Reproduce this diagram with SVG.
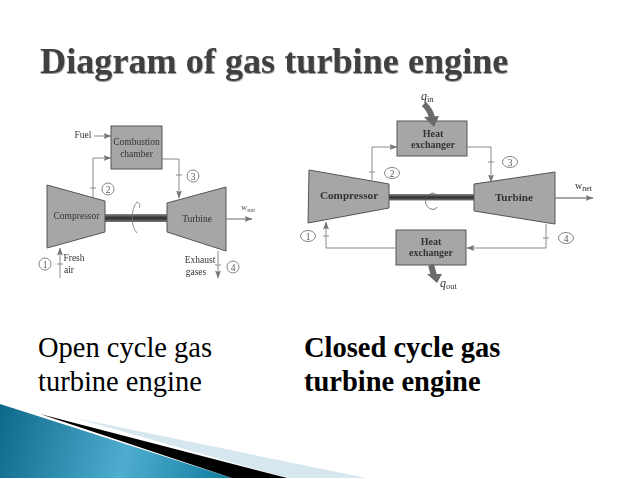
<svg xmlns="http://www.w3.org/2000/svg" width="638" height="479" viewBox="0 0 638 479">
<defs>
<linearGradient id="teal" gradientUnits="userSpaceOnUse" x1="0" y1="420" x2="230" y2="479">
<stop offset="0" stop-color="#0e6b8c"/><stop offset="0.55" stop-color="#4fadcf"/><stop offset="1" stop-color="#0f7d9f"/>
</linearGradient>
<filter id="soft" x="-5%" y="-5%" width="110%" height="110%"><feGaussianBlur stdDeviation="0.45"/></filter>
<filter id="shadow" x="-5%" y="-20%" width="110%" height="140%"><feDropShadow dx="0.5" dy="1" stdDeviation="0.7" flood-color="#999"/></filter>
<linearGradient id="shaft" x1="0" y1="0" x2="0" y2="1">
<stop offset="0" stop-color="#8c8c8c"/><stop offset="0.5" stop-color="#2c2c2c"/><stop offset="1" stop-color="#777"/>
</linearGradient>
<marker id="ah" viewBox="0 0 8 6" refX="7.500" refY="3" markerWidth="8" markerHeight="6" markerUnits="userSpaceOnUse" orient="auto"><path d="M0 0L8 3L0 6L1.500 3Z" fill="#777"/></marker>
</defs>
<style>
.title{font:bold 36.200px "Liberation Serif",serif;fill:#404040}
.cap{font:28.500px "Liberation Serif",serif;fill:#000}
.capb{font:bold 28.500px "Liberation Serif",serif;fill:#000}
.blk{fill:#a6a6a6;stroke:#555;stroke-width:1}
.ln{fill:none;stroke:#8a8a8a;stroke-width:1}
.arr{marker-end:url(#ah)}
.t{font-family:"Liberation Serif",serif;font-size:9.500px;fill:#333;text-anchor:middle}
.tb{font-family:"Liberation Serif",serif;font-size:10px;fill:#333;text-anchor:middle;font-weight:bold}
.tbl{font-family:"Liberation Serif",serif;font-size:11.200px;fill:#333;text-anchor:middle;font-weight:bold}
.s{font-family:"Liberation Serif",serif;font-size:8.500px;fill:#555;text-anchor:start}
.q{font-family:"Liberation Serif",serif;font-size:12px;fill:#333;font-style:italic}
.c{fill:#fff;stroke:#777;stroke-width:0.900}
.n{font-family:"Liberation Serif",serif;font-size:9.500px;fill:#555;text-anchor:middle}
.fat{fill:none;stroke:#6b6b6b;stroke-width:6}
.sw{fill:none;stroke:#777;stroke-width:0.800}
</style>
<rect width="638" height="479" fill="#fff"/>
<g id="footer">
<polygon points="75,418 366,478 287,478" fill="#d7e7ef"/>
<polygon points="0,404 232,478 0,478" fill="url(#teal)"/>
<polygon points="40,414 232,478 287,478" fill="#000"/>
</g>
<text class="title" x="40" y="73" filter="url(#shadow)">Diagram of gas turbine engine</text>
<g id="shaft-open" filter="url(#soft)"><rect x="105" y="214" width="62" height="8" fill="url(#shaft)"/></g>
<g id="shaft-closed" filter="url(#soft)"><rect x="389" y="194" width="85" height="6.500" fill="url(#shaft)"/></g>
<g id="open-compressor" filter="url(#soft)"><polygon class="blk" points="47,185 105,201 105,232 47,248"/><text class="t" x="76.500" y="219">Compressor</text></g>
<g id="open-turbine" filter="url(#soft)"><polygon class="blk" points="167,203 226,187 226,251 167,232"/><text class="t" x="197" y="222">Turbine</text></g>
<g id="open-chamber" filter="url(#soft)"><rect class="blk" x="111" y="126" width="51" height="43"/><text class="t" x="136.500" y="145">Combustion</text><text class="t" x="136.500" y="157">chamber</text></g>
<g id="closed-compressor" filter="url(#soft)"><polygon class="blk" points="309,170 389,184 389,208 308,223"/><text class="tbl" x="349" y="199">Compressor</text></g>
<g id="closed-turbine" filter="url(#soft)"><polygon class="blk" points="474,184 555,172 555,224 474,211"/><text class="tbl" x="514" y="201">Turbine</text></g>
<g id="closed-hx-top" filter="url(#soft)"><rect class="blk" x="397" y="121" width="70" height="35"/><text class="tb" x="433" y="137">Heat</text><text class="tb" x="433" y="148">exchanger</text></g>
<g id="closed-hx-bottom" filter="url(#soft)"><rect class="blk" x="396" y="230" width="70" height="35"/><text class="tb" x="431" y="245">Heat</text><text class="tb" x="431" y="256">exchanger</text></g>
<g id="connectors" filter="url(#soft)">
<path class="ln arr" d="M94 136H111"/>
<path class="ln arr" d="M93 197V158H111"/>
<path class="ln arr" d="M162 159H179V198"/>
<path class="ln arr" d="M60 278V248"/>
<path class="ln arr" d="M218 251V278"/>
<path class="ln arr" d="M226 219H252" style="stroke-width:1.300"/>
<path class="ln" d="M90 188H96M57 264H63M215 265H221M176 175H182"/>
<path class="sw" d="M137 202C131 208 130 226 137 233"/>
<path class="sw" d="M137 202C141 203 140 207 139 208"/>
<path class="ln arr" d="M372 182V147H397"/>
<path class="ln arr" d="M467 147H491V182"/>
<path class="ln arr" d="M546 224V248H467"/>
<path class="ln arr" d="M396 248H326V222"/>
<path class="ln arr" d="M555 198H593" style="stroke-width:1.300"/>
<path class="ln" d="M369 172H375M488 162H494M543 238H549M323 236H329"/>
<path class="sw" d="M433 193C424 195 423 206 431 209C434 210 436 209 437 207" style="stroke:#555"/>
<path class="sw" d="M433 193C436 194 437 196 436 198" style="stroke:#555"/>
<path class="fat" d="M424 104C428 108 431 112 432 118"/>
<polygon points="424,117 439,116 434,127" fill="#6b6b6b"/>
<path class="fat" d="M431 265C432 268 433 272 434 276"/>
<polygon points="427,274 442,274 437,283" fill="#6b6b6b"/>
</g>
<g id="open-labels" filter="url(#soft)">
<text class="t" x="83" y="138">Fuel</text>
<text class="t" x="74" y="261">Fresh</text><text class="t" x="69" y="273">air</text>
<text class="t" x="200" y="263">Exhaust</text><text class="t" x="196" y="275">gases</text>
<text class="s" x="241" y="210">w<tspan font-size="6.500" dy="2">net</tspan></text>
<circle class="c" cx="108" cy="189" r="6"/><text class="n" x="108" y="192.500">2</text>
<circle class="c" cx="193" cy="176" r="6"/><text class="n" x="193" y="179.500">3</text>
<circle class="c" cx="45" cy="264" r="6"/><text class="n" x="45" y="267.500">1</text>
<circle class="c" cx="233" cy="267" r="6"/><text class="n" x="233" y="270.500">4</text>
</g>
<g id="closed-labels" filter="url(#soft)">
<text class="q" x="421" y="100">q<tspan font-size="8.500" dy="2" font-style="normal">in</tspan></text>
<text class="q" x="440" y="287">q<tspan font-size="8.500" dy="2" font-style="normal">out</tspan></text>
<text class="s" x="575" y="189" style="fill:#333;font-size:10px">w<tspan font-size="8" dy="2">net</tspan></text>
<ellipse class="c" cx="392" cy="173" rx="7.500" ry="5.500"/><text class="n" x="392" y="176.500">2</text>
<ellipse class="c" cx="510" cy="162" rx="7.500" ry="5.500"/><text class="n" x="510" y="165.500">3</text>
<ellipse class="c" cx="308" cy="236" rx="7.500" ry="5.500"/><text class="n" x="308" y="239.500">1</text>
<ellipse class="c" cx="566" cy="238" rx="7.500" ry="5.500"/><text class="n" x="566" y="241.500">4</text>
</g>
<g id="captions">
<text class="cap" x="38" y="357">Open cycle gas</text>
<text class="cap" x="38" y="391">turbine engine</text>
<text class="capb" x="304" y="357">Closed cycle gas</text>
<text class="capb" x="304" y="391">turbine engine</text>
</g>
</svg>
